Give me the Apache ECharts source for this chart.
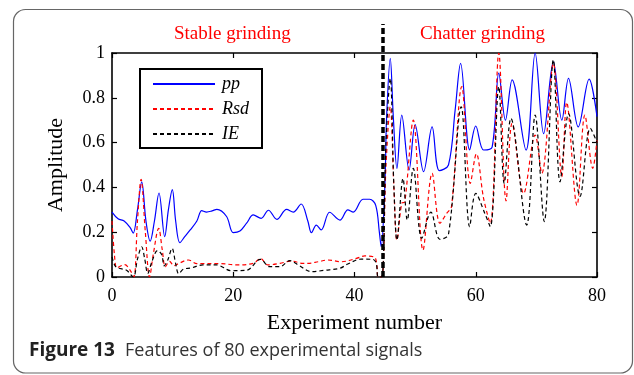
<!DOCTYPE html>
<html>
<head>
<meta charset="utf-8">
<script src="https://cdn.jsdelivr.net/npm/echarts@6/dist/echarts.min.js"></script>
<style>
html,body{margin:0;padding:0;background:#fff;}
#c{width:634px;height:375px;}
</style>
</head>
<body>
<div id="c"></div>
<script>
// x ticks / y ticks
const xTicks = [0, 20, 40, 60, 80];
const yTicks = [0, 0.2, 0.4, 0.6, 0.8, 1];

// pp feature (blue solid) [experiment, amplitude]
const ppPoints = [[0,0.29],[1,0.26],[2,0.25],[3,0.22],[3.5,0.196],[4.2,0.3],[4.9,0.425],[5.6,0.25],[6.3,0.16],[7,0.25],[7.75,0.375],[8.7,0.18],[9.3,0.3],[9.95,0.39],[10.5,0.25],[11.2,0.153],[12,0.18],[12.9,0.21],[14,0.25],[14.8,0.296],[15.6,0.29],[16.5,0.295],[17.3,0.302],[18.9,0.27],[20,0.198],[21.1,0.205],[22.2,0.24],[23.3,0.277],[24.6,0.262],[25.8,0.298],[27.2,0.257],[28.8,0.302],[29.9,0.29],[31.2,0.326],[32.3,0.25],[32.9,0.198],[33.7,0.232],[34.5,0.21],[35.9,0.289],[37.6,0.254],[38.9,0.30],[39.8,0.29],[41.4,0.347],[42.5,0.347],[43.5,0.32],[44.1,0.2],[44.4,0.135],[45,0.4],[45.3,0.715],[45.9,0.976],[46.4,0.715],[47,0.485],[47.8,0.723],[49,0.478],[50,0.68],[51.4,0.47],[52.8,0.67],[54,0.475],[55.5,0.5],[56.6,0.745],[57.5,0.954],[59,0.567],[60,0.674],[61.3,0.567],[62.7,0.58],[63.8,0.91],[64.9,0.70],[66,0.88],[68.3,0.567],[69.8,0.999],[71.2,0.64],[72.8,0.96],[74.2,0.70],[75.3,0.887],[76.9,0.67],[78.7,0.883],[80,0.716]];

// Rsd feature (red dashed)
const rsdPoints = [[0,0.25],[0.4,0.1],[0.8,0.04],[1.5,0.05],[2.1,0.055],[3,0.03],[3.6,0],[4.2,0.25],[4.8,0.436],[5.5,0.2],[6.2,0],[6.8,0.1],[7.7,0.217],[8.3,0.12],[8.8,0.046],[9.5,0.07],[10.2,0.05],[11,0.06],[12.6,0.076],[14,0.06],[15,0.06],[17.8,0.06],[20.5,0.054],[23.3,0.061],[24.5,0.083],[25.7,0.054],[27.7,0.061],[29.6,0.071],[31.5,0.061],[32.3,0.061],[34,0.068],[35.6,0.076],[37.8,0.068],[40.3,0.083],[41.7,0.094],[43.3,0.088],[43.7,0.05],[43.9,0],[44.5,0],[45.2,0.5],[45.9,0.76],[46.5,0.4],[47,0.165],[47.8,0.33],[48.3,0.335],[49.7,0.70],[51.3,0.12],[52.8,0.463],[54.1,0.24],[55.2,0.284],[56,0.314],[57.7,0.85],[59.1,0.418],[60.1,0.55],[61.3,0.35],[62.4,0.24],[63.8,1.0],[65,0.34],[66,0.686],[67.9,0.373],[69.8,0.634],[70.9,0.463],[72.8,0.954],[74.2,0.448],[75,0.78],[76.7,0.32],[78,0.723],[79.3,0.485],[80,0.61]];

// IE feature (black dashed)
const iePoints = [[0,0.09],[0.5,0.05],[1,0.04],[2.4,0.03],[3.5,0],[4.2,0.08],[4.9,0.135],[5.4,0.08],[5.9,0.016],[6.6,0.07],[7.5,0.118],[8.2,0.1],[8.6,0.05],[9.2,0.076],[9.9,0.128],[10.5,0.06],[11,0.015],[11.8,0.035],[13,0.04],[15,0.054],[17.2,0.054],[19.7,0.028],[22.2,0.03],[24.5,0.079],[26,0.046],[27.7,0.046],[29.3,0.073],[30.7,0.054],[32.9,0.024],[35.1,0.03],[37.6,0.039],[38.9,0.058],[41.1,0.08],[43.1,0.078],[43.6,0.06],[43.9,0],[44.5,0],[45.2,0.6],[45.9,0.887],[46.5,0.4],[47,0.165],[48,0.44],[48.7,0.254],[49.7,0.485],[51.1,0.173],[52.6,0.29],[54.1,0.168],[55.5,0.19],[57.6,0.76],[59,0.225],[60,0.373],[61.5,0.284],[62.4,0.225],[63.8,0.85],[64.7,0.418],[65.8,0.708],[68.4,0.232],[69.8,0.723],[71.3,0.247],[72.8,0.97],[73.9,0.425],[75.3,0.73],[77.2,0.36],[78.9,0.664],[80,0.6]];

// boundary between stable and chatter grinding
const boundaryX = 44.7;
const boundaryTop = 1.13;

const serif = '"Liberation Serif","Times New Roman",serif';
const chart = echarts.init(document.getElementById('c'), null, {renderer: 'canvas'});

const axisCommon = {
  type: 'value',
  splitLine: {show: false},
  axisLine: {show: true, onZero: false, lineStyle: {color: '#000', width: 1.6}},
  axisTick: {show: true, inside: true, length: 5, lineStyle: {color: '#000', width: 1.2}},
};

chart.setOption({
  animation: false,
  backgroundColor: '#fff',
  grid: {left: 112, right: 37, top: 53, bottom: 98},
  graphic: [
    {type: 'rect', shape: {x: 13.5, y: 9.5, width: 619, height: 363.5, r: 12}, style: {fill: 'none', stroke: '#666', lineWidth: 1.2}, silent: true},
    {type: 'text', left: 29, top: 341, style: {text: 'Figure 13', font: 'bold 19px "Open Sans", sans-serif', fill: '#222'}},
    {type: 'text', left: 125, top: 342, style: {text: 'Features of 80 experimental signals', font: '18px "Open Sans", sans-serif', fill: '#333'}},
    {type: 'text', left: 174, top: 25, style: {text: 'Stable grinding', font: '19px ' + serif, fill: '#ff0000'}},
    {type: 'text', left: 420, top: 25, style: {text: 'Chatter grinding', font: '19px ' + serif, fill: '#ff0000'}}
  ],
  legend: {
    data: ['pp', 'Rsd', 'IE'],
    orient: 'vertical',
    left: 140, top: 69,
    padding: [6, 13, 5, 12],
    itemGap: 7,
    itemWidth: 62, itemHeight: 14,
    itemStyle: {opacity: 0},
    borderColor: '#000', borderWidth: 2,
    backgroundColor: '#fff',
    textStyle: {fontFamily: serif, fontStyle: 'italic', fontSize: 18, color: '#000', padding: [0, 0, 0, 2]}
  },
  xAxis: [
    Object.assign({}, axisCommon, {
      min: xTicks[0], max: xTicks[xTicks.length - 1], interval: xTicks[1] - xTicks[0],
      position: 'bottom',
      axisLabel: {fontFamily: serif, fontSize: 18, color: '#000', margin: 10},
      name: 'Experiment number', nameLocation: 'middle', nameGap: 35,
      nameTextStyle: {fontFamily: serif, fontSize: 22, color: '#000'}
    }),
    Object.assign({}, axisCommon, {
      min: xTicks[0], max: xTicks[xTicks.length - 1], interval: xTicks[1] - xTicks[0],
      position: 'top', axisLabel: {show: false}
    })
  ],
  yAxis: [
    Object.assign({}, axisCommon, {
      min: yTicks[0], max: yTicks[yTicks.length - 1], interval: yTicks[1] - yTicks[0],
      position: 'left',
      axisLabel: {fontFamily: serif, fontSize: 18, color: '#000', margin: 7},
      name: 'Amplitude', nameLocation: 'middle', nameGap: 45,
      nameTextStyle: {fontFamily: serif, fontSize: 22, color: '#000'}
    }),
    Object.assign({}, axisCommon, {
      min: yTicks[0], max: yTicks[yTicks.length - 1], interval: yTicks[1] - yTicks[0],
      position: 'right', axisLabel: {show: false}
    })
  ],
  series: [
    {name: 'pp', type: 'line', data: ppPoints, showSymbol: false, symbol: 'none', smooth: 0.35,
     lineStyle: {color: '#0000ff', width: 1.2}, itemStyle: {color: '#0000ff'}, z: 3},
    {name: 'Rsd', type: 'line', data: rsdPoints, showSymbol: false, symbol: 'none', smooth: 0.35,
     lineStyle: {color: '#ff0000', width: 1.2, type: [4, 3]}, itemStyle: {color: '#ff0000'}, z: 4},
    {name: 'IE', type: 'line', data: iePoints, showSymbol: false, symbol: 'none', smooth: 0.35,
     lineStyle: {color: '#000', width: 1.2, type: [4, 3]}, itemStyle: {color: '#000'}, z: 5},
    {name: 'boundary', type: 'line', data: [[boundaryX, 0], [boundaryX, boundaryTop]], clip: false,
     showSymbol: false, symbol: 'none', lineStyle: {color: '#000', width: 3.5, type: [6, 3]}, z: 6}
  ]
});
</script>
</body>
</html>
